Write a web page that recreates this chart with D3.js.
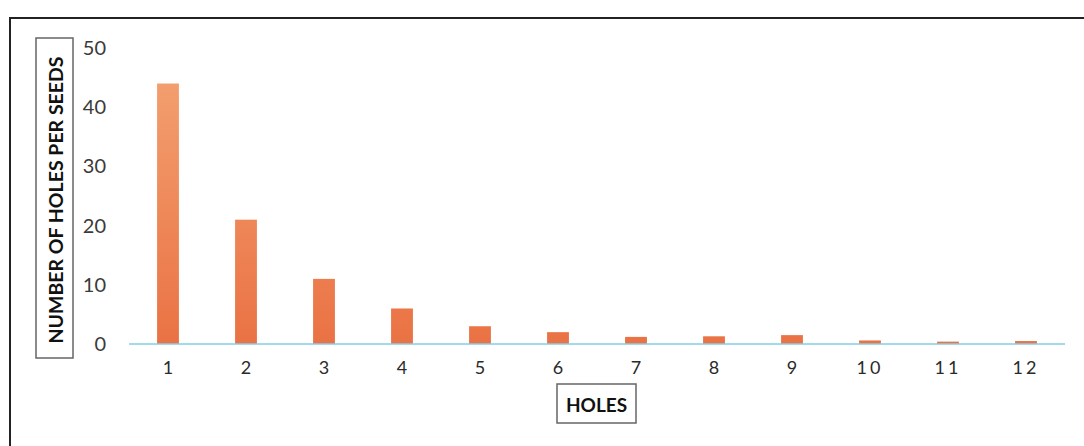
<!DOCTYPE html>
<html>
<head>
<meta charset="utf-8">
<script src="https://cdn.jsdelivr.net/npm/d3@7"></script>
<style>
  html, body { margin: 0; padding: 0; background: #fff; }
  svg { display: block; }
</style>
</head>
<body>
<svg id="chart" width="1084" height="446"></svg>
<script>
const categories = ["1","2","3","4","5","6","7","8","9","10","11","12"];
const values = [44, 21, 11, 6, 3, 2, 1.2, 1.3, 1.5, 0.6, 0.4, 0.5];
const yTicks = [0, 10, 20, 30, 40, 50];
const xTitle = "HOLES";
const yTitle = "NUMBER OF HOLES PER SEEDS";

const svg = d3.select("#chart");
const font = "Lato, 'Open Sans', sans-serif";

// outer frame
svg.append("rect")
  .attr("x", 10).attr("y", 18).attr("width", 1100).attr("height", 460)
  .attr("fill", "none").attr("stroke", "#222").attr("stroke-width", 2);

const margin = { left: 129, right: 1065, top: 48, bottom: 344 };
const x = d3.scaleBand().domain(categories).range([margin.left, margin.right])
  .paddingInner(0.72).paddingOuter(0.36);
const y = d3.scaleLinear().domain([0, 50]).range([margin.bottom, margin.top]);

const defs = svg.append("defs");
const grad = defs.append("linearGradient").attr("id", "barGrad")
  .attr("gradientUnits", "userSpaceOnUse")
  .attr("x1", 0).attr("x2", 0)
  .attr("y1", y(50)).attr("y2", y(0));
grad.append("stop").attr("offset", "0%").attr("stop-color", "#f4a474");
grad.append("stop").attr("offset", "100%").attr("stop-color", "#ea7244");

// bars
svg.append("g").selectAll("rect").data(values).join("rect")
  .attr("x", (d, i) => x(categories[i]))
  .attr("width", x.bandwidth())
  .attr("y", d => y(d))
  .attr("height", d => y(0) - y(d))
  .attr("fill", "url(#barGrad)");

// baseline
svg.append("line")
  .attr("x1", margin.left).attr("x2", margin.right)
  .attr("y1", y(0)).attr("y2", y(0))
  .attr("stroke", "#86cfe6").attr("stroke-width", 1.5);

// y axis labels
const yAxis = d3.axisLeft(y).tickValues(yTicks).tickSize(0).tickPadding(0);
const gy = svg.append("g").attr("transform", "translate(106,0)").call(yAxis);
gy.select(".domain").remove();
gy.selectAll("text").attr("font-family", font).attr("font-size", 20)
  .attr("fill", "#3a3a3a").attr("dy", "0.32em");

// x axis labels
const xAxis = d3.axisBottom(x).tickSize(0).tickPadding(0);
const gx = svg.append("g").attr("transform", `translate(0,${y(0) + 17})`).call(xAxis);
gx.select(".domain").remove();
gx.selectAll("text").attr("font-family", font).attr("font-size", 18)
  .attr("fill", "#2a2a2a").attr("dy", "0.71em")
  .attr("letter-spacing", d => d.length > 1 ? "3px" : "0px");

// x title box
svg.append("rect").attr("x", 557).attr("y", 384).attr("width", 79).attr("height", 39)
  .attr("fill", "#fff").attr("stroke", "#666").attr("stroke-width", 1.5);
svg.append("text").attr("x", 596.5).attr("y", 404)
  .attr("text-anchor", "middle").attr("dominant-baseline", "central")
  .attr("font-family", font).attr("font-weight", "bold").attr("font-size", 19)
  .attr("fill", "#111").text(xTitle);

// y title box
svg.append("rect").attr("x", 36).attr("y", 38).attr("width", 37).attr("height", 320)
  .attr("fill", "#fff").attr("stroke", "#666").attr("stroke-width", 1.5);
svg.append("text")
  .attr("transform", "translate(55,200) rotate(-90)")
  .attr("text-anchor", "middle").attr("dominant-baseline", "central")
  .attr("font-family", font).attr("font-weight", "bold").attr("font-size", 19.5)
  .attr("fill", "#111").text(yTitle);
</script>
</body>
</html>
